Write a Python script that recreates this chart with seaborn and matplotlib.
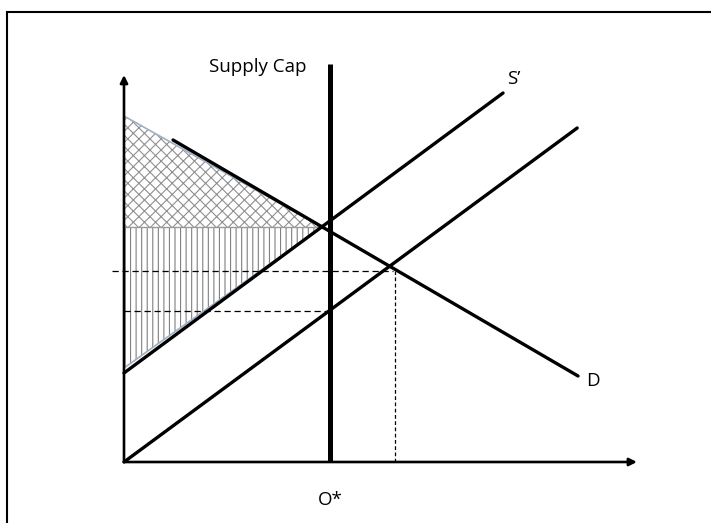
import matplotlib
matplotlib.use("Agg")
import numpy as np
import pandas as pd
import seaborn as sns
import matplotlib.pyplot as plt
from matplotlib.patches import Rectangle

# quantities (Q) and prices (P)
cap_q = 10.0
cap_top = 19.9
eq_q, eq_p = 13.05, 9.55          # S meets D
cap_p_low = 7.55                  # S at the cap
apex_q, apex_p = 9.6, 11.75       # S' meets D at the cap
hatch_top_p = 17.3                # top of the consumer-surplus wedge
hatch_bottom_p = 4.7              # bottom of the vertical-hatched wedge

demand_q = [2.38, 22.04]
demand_p = [16.1, 4.3]
supply_q = [0.0, 22.0]
supply_p = [0.0, 16.7]
supply2_q = [0.0, 18.4]
supply2_p = [4.45, 18.45]

q_axis_max = 24.9
p_axis_max = 19.35

sns.set_style("white")
plt.rcParams["font.family"] = ["Open Sans", "DejaVu Sans"]
plt.rcParams["hatch.linewidth"] = 0.8

fig = plt.figure(figsize=(7.11, 5.23), dpi=100)
ax = fig.add_axes([0, 0, 1, 1])
ax.set_xlim(-124 / 20.6, (711 - 124) / 20.6)
ax.set_ylim(-(523 - 462) / 20, 462 / 20)
ax.axis("off")

# hatched areas
ax.fill([0, apex_q, 0], [hatch_top_p, apex_p, apex_p], facecolor="none",
        edgecolor="#909090", hatch="xxx", linewidth=0)
ax.fill([0, apex_q, 0], [apex_p, apex_p, hatch_bottom_p], facecolor="none",
        edgecolor="#808080", hatch="|||", linewidth=0)
ax.plot([0, apex_q], [hatch_top_p, apex_p], color="#9fb0c2", lw=1.2)
ax.plot([0, apex_q], [hatch_bottom_p, apex_p], color="#9fb0c2", lw=1.2)
ax.plot([0, apex_q], [apex_p, apex_p], color="#9a9a9a", lw=1.0)

# dashed guides
ax.plot([-0.58, eq_q], [eq_p, eq_p], color="black", lw=0.9, ls=(0, (5, 3)))
ax.plot([0, cap_q], [cap_p_low, cap_p_low], color="black", lw=0.9, ls=(0, (5, 3)))
ax.plot([eq_q + 0.1, eq_q + 0.1], [0, eq_p], color="black", lw=0.9, ls=(0, (3, 2)))

# curves
curves = pd.concat([
    pd.DataFrame({"curve": "D", "Q": demand_q, "P": demand_p}),
    pd.DataFrame({"curve": "S", "Q": supply_q, "P": supply_p}),
    pd.DataFrame({"curve": "S'", "Q": supply2_q, "P": supply2_p}),
])
sns.lineplot(data=curves, x="Q", y="P", hue="curve", units="curve",
             estimator=None, sort=False, palette=["black"] * 3,
             linewidth=2.4, legend=False, ax=ax)
ax.plot([cap_q, cap_q], [0, cap_top], color="black", linewidth=3.6,
        solid_capstyle="butt")

# axes with arrows
arrow = dict(arrowstyle="-|>", lw=1.9, color="black", mutation_scale=11,
             shrinkA=0, shrinkB=0)
ax.annotate("", xy=(q_axis_max, 0), xytext=(0, 0), arrowprops=arrow)
ax.annotate("", xy=(0, p_axis_max), xytext=(0, 0), arrowprops=arrow)

# labels
txt = dict(fontsize=13.5, ha="center", va="center", color="black")
ax.text(6.5, 19.75, "Supply Cap", **txt)
ax.text(18.9, 19.15, "S\u2019", **txt)
ax.text(22.75, 4.05, "D", **txt)
ax.text(cap_q, -1.9, "O*", **txt)

# frame around the picture
fig.patches.append(Rectangle((7 / 711, -0.1), 1.2, 1.1 - 12 / 523,
                             transform=fig.transFigure, fill=False,
                             edgecolor="black", linewidth=1.5))

fig.savefig("out.png", dpi=100)
